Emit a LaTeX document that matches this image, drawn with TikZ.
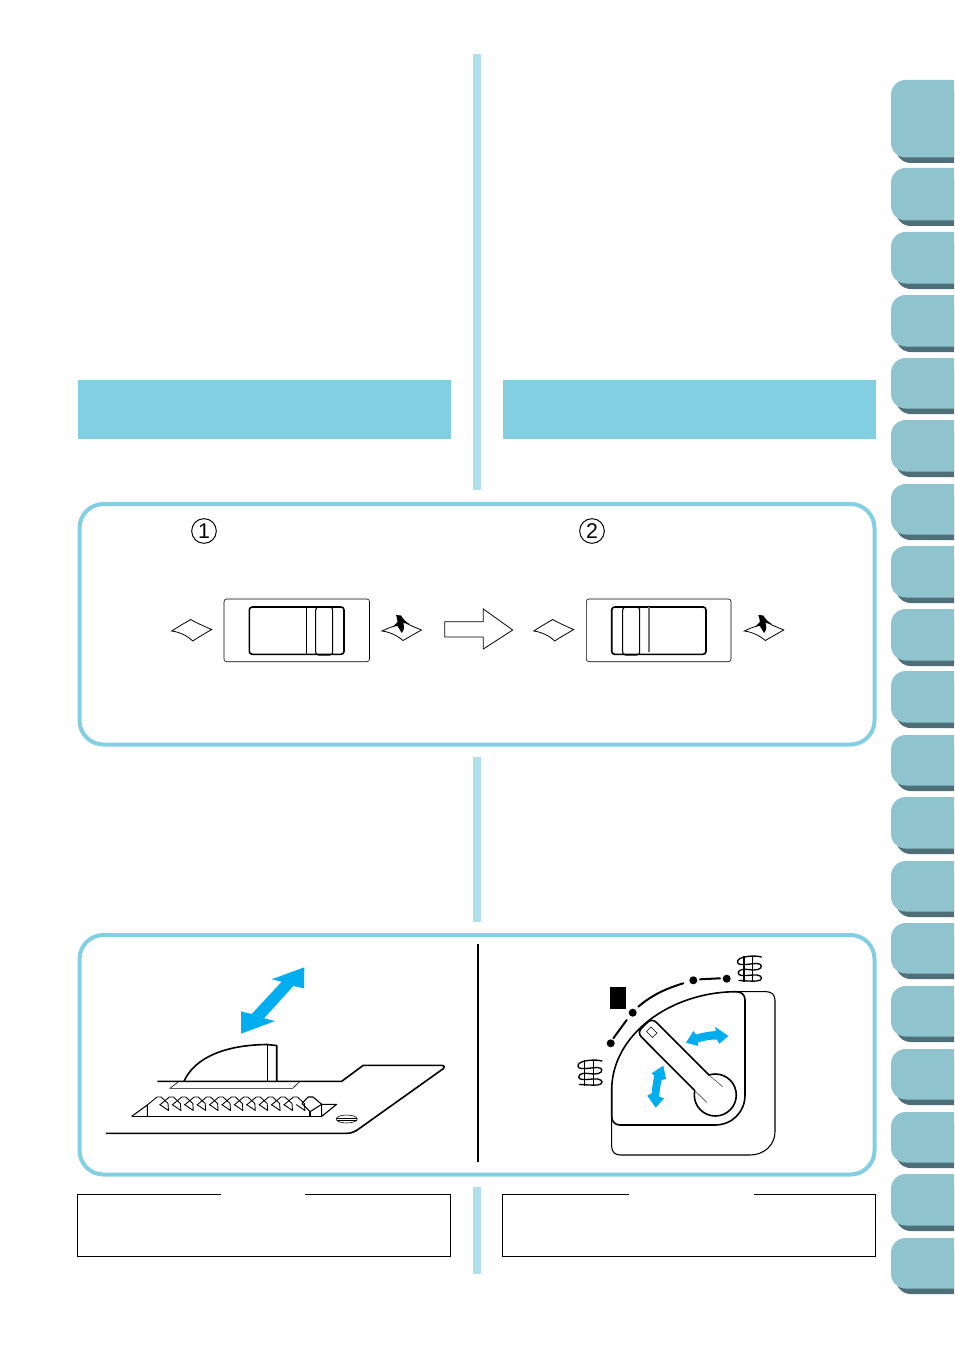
\documentclass[tikz,border=0pt]{standalone}
\usepackage{fontspec}
\setmainfont{Liberation Sans}
\definecolor{tabbody}{HTML}{8FC4CF}
\definecolor{tabshadow}{HTML}{4E6E78}
\definecolor{barblue}{HTML}{B0E0EE}
\definecolor{headblue}{HTML}{82CFE4}
\definecolor{arrowblue}{HTML}{00AEEF}
\tikzset{
  thinline/.style={line width=0.45pt,black},
  medline/.style={line width=0.8pt,black,line join=round},
  thickline/.style={line width=1.2pt,black,line join=round},
  framebox/.style={line width=3pt,headblue,rounded corners=18pt},
  bluearrow/.style={fill=arrowblue,draw=none},
  numcircle/.style={circle,draw,line width=0.75pt,minimum size=18.5pt,inner sep=0pt,font=\fontsize{16}{16}\selectfont},
  stitchicon/.pic={
    \draw[line width=0.8pt] (7,0)--(7,26) (15.7,0)--(15.7,26);
    \draw[line width=1pt,line cap=round] (24.5,1.5) .. controls (17,-0.5) and (7,1) .. (3,3)
      .. controls (-1,5) and (0,9) .. (4,9) .. controls (10,9.5) and (14,8) .. (20,8)
      .. controls (25,8) and (26,12.5) .. (21,14) .. controls (15,15.5) and (10,13) .. (5,14)
      .. controls (0,15) and (0,20) .. (5,20) .. controls (10,20.5) and (15,19) .. (20,19.5)
      .. controls (26,20) and (26,25) .. (20,25.5) .. controls (14,26) and (7,25) .. (2,25);
  },
  paperplain/.pic={
    \draw[line width=0.6pt,fill=white,line join=miter]
      (0,0) .. controls (6,-4) and (13,-8) .. (19,-11.5)
      .. controls (25,-8) and (34,-4) .. (40,-1.5)
      .. controls (34,2) and (27,6) .. (21,10)
      .. controls (16,5) and (8,1) .. (0,0) -- cycle;
  },
  paperspike/.pic={
    \draw[line width=0.6pt,line join=miter]
      (24,-8) .. controls (29,-5) and (35,-3) .. (39.5,-1)
      .. controls (34,2) and (27,6) .. (21,9.5)
      .. controls (16,5) and (8,1) .. (0,0)
      .. controls (4,-2) and (9,-4) .. (13,-5);
    \fill[black] (14,-16) -- (19,-15.5) .. controls (21,-12) and (24,-9) .. (27.5,-7)
      -- (21,-8) .. controls (22.5,-5) and (22.5,-1) .. (19.7,2)
      -- (15.5,-5) -- (11,-4.5) -- (15.5,-9) .. controls (15.5,-11) and (15,-13) .. (14,-16) -- cycle;
  }
}
\begin{document}
\begin{tikzpicture}[x=0.75pt,y=-0.75pt]
\useasboundingbox (0,0) rectangle (954,1348);
\clip (0,0) rectangle (954,1348);
\fill[white] (0,0) rectangle (954,1348);
% side tabs
\foreach \t/\b in {80/163,168/226,232/289,295/352,358/414,420/477,484/540,546/603,609/666,671/728,735/791,797/854,861/917,923/979,986/1042,1049/1105,1112/1168,1174/1231,1238/1294}{
  \fill[tabshadow,rounded corners=11pt] (896,\t+12) rectangle (975,\b);
  \fill[tabbody,rounded corners=11pt] (891,\t) rectangle (975,\b-5.5);
}
% column bars
\fill[barblue] (473,54) rectangle (481,490);
\fill[barblue] (473,757) rectangle (481,922);
\fill[barblue] (473,1187) rectangle (481,1274);
% heading bands
\fill[headblue] (78,380) rectangle (451,439);
\fill[headblue] (503,380) rectangle (876,439);
% frames
\draw[framebox] (79.5,504) rectangle (874.5,744.5);
\draw[framebox] (79.5,935) rectangle (874.5,1174.5);
% numbers
\node[numcircle] (n1) at (204,531) {1};
\node[numcircle] (n2) at (592,531) {2};
% switch 1
\draw[thinline,rounded corners=2pt] (224,599) rectangle (369.5,661.7);
\draw[thickline,rounded corners=2.2pt] (249.3,607) rectangle (344,654.3);
\draw[medline] (306.7,607) -- (306.7,654.3);
\draw[medline,rounded corners=2.2pt] (315.7,607) rectangle (332.7,655);
% switch 2
\draw[thinline,rounded corners=2pt] (586.3,599) rectangle (731,661.7);
\draw[thickline,rounded corners=2.2pt] (611.7,607) rectangle (706,654.3);
\draw[medline,black!55] (649,607) -- (649,652);
\draw[medline,rounded corners=2.2pt] (622.7,607) rectangle (639.7,655);
% paper icons
\pic at (171.7,631) {paperplain};
\pic at (533.7,631) {paperplain};
\pic at (382,631) {paperspike};
\pic at (744.3,631) {paperspike};
% big arrow
\draw[line width=0.6pt,fill=white,line join=miter] (444.7,621.7) -- (483.3,621.7) -- (483.3,609) -- (512.7,630) -- (483.3,649) -- (483.3,637) -- (444.7,637) -- cycle;
% divider
\draw[line width=1.5pt] (478,944) -- (478,1162);
% blue double arrow
\fill[bluearrow] (304.3,967.3) -- (304,988.3) -- (293.3,986) -- (264,1018.3) -- (275,1021) -- (241,1033.7) -- (241,1011.3) -- (251.7,1014) -- (281.7,981.7) -- (271.7,979.3) -- cycle;
% machine bed
\draw[thickline] (157.3,1081.3) -- (341.7,1081.3) -- (363.3,1065.3) -- (441,1065.3) .. controls (444,1065.3) and (445.5,1067) .. (443.5,1068.5) -- (360,1128) .. controls (355,1132) and (351,1133.3) .. (346.7,1133.3) -- (106,1133.3);
\draw[thickline] (184,1081.3) .. controls (195,1056.7) and (226.7,1045) .. (266.7,1044.5) -- (276.7,1045.5) -- (276.7,1081.3);
\draw[medline] (267.7,1044.5) -- (267.7,1081.3);
\draw[thinline] (179,1081.3) -- (170,1088.3) -- (292.7,1088.3) -- (300,1081.3);
% feed dog
\draw[thickline] (131.7,1116.3) -- (321.7,1116.3);
\draw[medline] (131.7,1116.3) -- (147.3,1105) -- (147.3,1116.3);
\draw[medline] (321.7,1116.3) -- (336.7,1104.3) -- (321.7,1104.3) -- (321.7,1116.3);
\foreach \i in {0,...,11}{
  \pgfmathsetmacro{\xx}{157+12.4*\i}
  \draw[line width=0.65pt,line join=round] (\xx-9.7,1105) -- (\xx,1097) -- (\xx+4,1097) -- (\xx+11,1103.5) -- (\xx+11.5,1110.5) -- (\xx+2.7,1104.5);
}
\draw[medline] (302,1103.5) -- (308,1097) -- (313,1097) -- (321.7,1104.3) -- (310,1111.7) -- (302,1103.5);
\draw[medline] (310,1111.7) -- (310,1116.3);
% screw
\draw[thinline,fill=white] (346.7,1119) ellipse [x radius=10.5,y radius=4];
\draw[thinline] (336.5,1118.2) -- (357,1118.2) (336.5,1119.8) -- (357,1119.8);
% dial panel
\draw[medline] (736,991.7) -- (766.7,991.7) .. controls (771.5,991.7) and (775,995) .. (775,1000) -- (775,1131.7) .. controls (775,1145) and (764,1155) .. (750,1155) -- (620,1155) .. controls (615,1155) and (611.7,1151.5) .. (611.7,1146.7) -- (611.7,1118);
\draw[thickline] (611.7,1090) .. controls (611.7,1035) and (670,991.7) .. (736.7,991.7) .. controls (741.5,991.7) and (745,995) .. (745,1000) -- (745,1095) .. controls (745,1112) and (732,1125) .. (715,1125) -- (620,1125) .. controls (615,1125) and (611.7,1121.5) .. (611.7,1116.7) -- cycle;
% knob and lever
\draw[thickline] (715.3,1095) circle [radius=21];
\fill[white,rounded corners=4pt] (637,1032.6) -- (652,1018) -- (722.7,1088.7) -- (707.5,1103) -- cycle;
\draw[thickline,rounded corners=4.5pt] (695,1090.7) -- (637,1032.6) -- (652,1018) -- (709.5,1075.5);
\draw[thinline,black!70] (709.5,1075.5) -- (722.7,1086.7) (695,1090.7) -- (706.7,1102.3);
\draw[thinline] (646.5,1031.5) -- (651,1027) -- (657,1033) -- (652.5,1037.5) -- cycle;
% scale arc
\draw[line width=1.5pt,line cap=round] (613.3,1038.3) -- (626.7,1020);
\draw[line width=1.5pt,line cap=round] (638.3,1006.7) .. controls (653,994) and (668,988) .. (683.3,983.3);
\draw[line width=1.5pt,line cap=round] (700,979.3) -- (720,978.3);
\fill (610.7,1043.3) circle [radius=4];
\fill (632.7,1012.7) circle [radius=4];
\fill (693.3,980.3) circle [radius=4];
\fill (726.7,978.7) circle [radius=4];
\fill (610,987.3) rectangle (626,1009);
% dial arrows
\fill[bluearrow] (686,1042.7) -- (693.3,1031) -- (696,1034.5) .. controls (703,1032.5) and (709,1031.5) .. (716,1031) -- (715,1026.7) -- (728.3,1036) -- (719.3,1043.7) -- (717,1039.5) .. controls (710,1039.5) and (704,1040.5) .. (698,1042.5) -- (698.3,1046) -- cycle;
\fill[bluearrow] (663.3,1065.7) -- (651.7,1073.3) -- (654.3,1075.7) .. controls (653,1082) and (652,1088) .. (651.7,1093.3) -- (647.3,1095.7) -- (655.7,1107.7) -- (664,1098.3) -- (659.3,1096.7) .. controls (659.5,1090) and (660.5,1085) .. (661.7,1080) -- (666,1079) -- cycle;
% stitch marks
\pic at (737,955.5) {stitchicon};
\begin{scope}[shift={(577.5,1059.5)},xscale=0.8]
\pic at (0,0) {stitchicon};
\end{scope}
% note boxes
\draw[line width=1pt] (221,1194.5) -- (77.5,1194.5) -- (77.5,1256.5) -- (450.5,1256.5) -- (450.5,1194.5) -- (305,1194.5);
\draw[line width=1pt] (629,1194.5) -- (502.5,1194.5) -- (502.5,1256.5) -- (875.5,1256.5) -- (875.5,1194.5) -- (754,1194.5);
\end{tikzpicture}
\end{document}
